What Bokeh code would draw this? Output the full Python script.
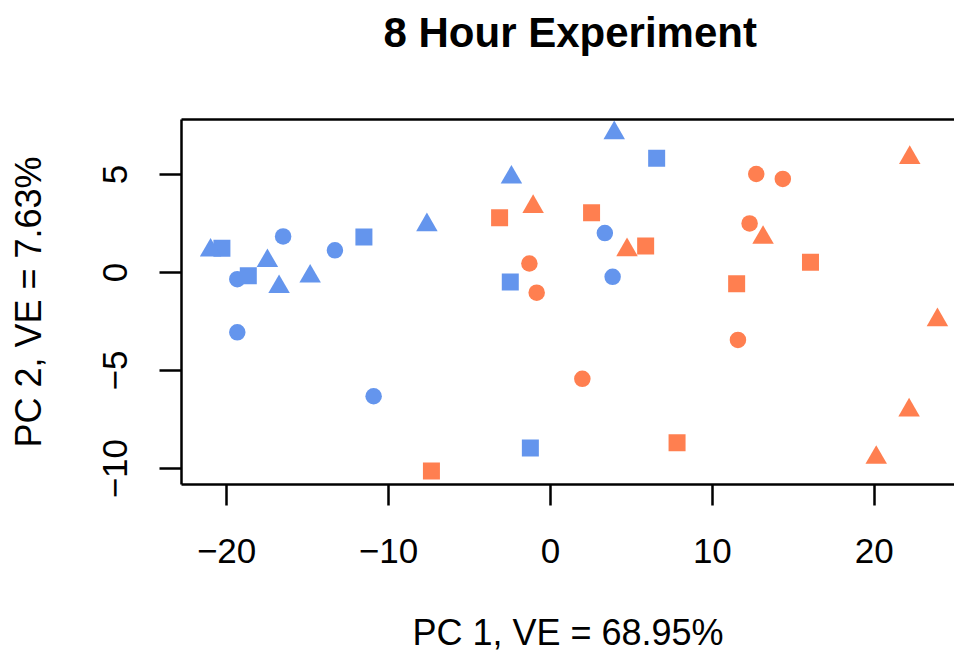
from bokeh.plotting import figure
from bokeh.models import Range1d, LinearAxis, FixedTicker, CustomJSTickFormatter
from bokeh.embed import file_html
from bokeh.resources import INLINE

# ---- data ----
blue_circle_x = [-16.51, -13.31, -19.34, 3.36, 3.84, -19.34, -10.92]
blue_circle_y = [1.84, 1.13, -0.34, 2.01, -0.22, -3.05, -6.31]
blue_square_x = [-20.29, -11.52, -18.66, -2.48, 6.56, -1.24]
blue_square_y = [1.23, 1.81, -0.17, -0.48, 5.82, -8.95]
blue_triangle_x = [-20.99, -7.63, -17.48, -16.76, -14.84, -2.41, 3.94]
blue_triangle_y = [1.13, 2.42, 0.59, -0.73, -0.20, 4.85, 7.11]
orange_circle_x = [-1.30, -0.85, 12.71, 14.35, 12.30, 1.97, 11.58]
orange_circle_y = [0.46, -1.03, 5.02, 4.77, 2.50, -5.42, -3.44]
orange_square_x = [-3.14, 2.54, 5.88, 16.06, 11.50, -7.35, 7.82]
orange_square_y = [2.79, 3.05, 1.35, 0.52, -0.58, -10.12, -8.68]
orange_triangle_x = [-1.07, 22.19, 4.73, 13.13, 23.90, 22.15, 20.12]
orange_triangle_y = [3.35, 5.85, 1.15, 1.78, -2.42, -7.02, -9.44]

x_ticks = [-20, -10, 0, 10, 20]
y_ticks = [-10, -5, 0, 5]

title_text = "8 Hour Experiment"
x_label = "PC 1, VE = 68.95%"
y_label = "PC 2, VE = 7.63%"

BLUE = "#6495ED"
ORANGE = "#FF7F50"
FONT = "Liberation Sans"

# R-style ranges (4% padding); the right side of the plot is cropped by the window
all_x = (blue_circle_x + blue_square_x + blue_triangle_x
         + orange_circle_x + orange_square_x + orange_triangle_x)
all_y = (blue_circle_y + blue_square_y + blue_triangle_y
         + orange_circle_y + orange_square_y + orange_triangle_y)
xspan = max(all_x) - min(all_x)
yspan = max(all_y) - min(all_y)
x_lo = min(all_x) - 0.04 * xspan
x_hi_full = max(all_x) + 0.04 * xspan
y_lo = min(all_y) - 0.04 * yspan
y_hi = max(all_y) + 0.04 * yspan

W, H = 954, 657
LEFT, TOP, BOTTOM = 181, 119, 173
full_frame_w = 785.0
vis_frame_w = W - LEFT
x_hi = x_lo + (x_hi_full - x_lo) * vis_frame_w / full_frame_w

p = figure(width=W, height=H, output_backend="svg", toolbar_location=None,
           x_range=Range1d(x_lo, x_hi), y_range=Range1d(y_lo, y_hi),
           min_border_left=LEFT, min_border_right=0,
           min_border_top=TOP, min_border_bottom=BOTTOM,
           title=title_text)

p.background_fill_color = "white"
p.border_fill_color = "white"
p.outline_line_color = None
p.grid.visible = False

p.title.text_font = FONT
p.title.text_font_size = "42px"
p.title.text_font_style = "bold"
p.title.text_color = "black"
p.title.align = "left"
p.title.offset = 202

fmt = CustomJSTickFormatter(code="return tick < 0 ? '\u2212' + Math.abs(tick) : String(tick);")

for ax, ticks in ((p.xaxis[0], x_ticks), (p.yaxis[0], y_ticks)):
    ax.ticker = FixedTicker(ticks=ticks)
    ax.formatter = fmt
    ax.minor_tick_line_color = None
    ax.major_tick_in = 0
    ax.axis_line_width = 2.5
    ax.axis_line_color = "black"
    ax.major_tick_line_width = 2.5
    ax.major_tick_line_color = "black"
    ax.major_label_text_font = FONT
    ax.major_label_text_font_size = "35px"
    ax.major_label_text_color = "black"
    ax.axis_label_text_font = FONT
    ax.axis_label_text_font_size = "36px"
    ax.axis_label_text_font_style = "normal"
    ax.axis_label_text_color = "black"

p.xaxis[0].axis_label = x_label
p.xaxis[0].major_tick_out = 21
p.xaxis[0].major_label_standoff = 33
p.xaxis[0].axis_label_standoff = 46

p.yaxis[0].axis_label = y_label
p.yaxis[0].major_tick_out = 22
p.yaxis[0].major_label_orientation = "vertical"
p.yaxis[0].major_label_standoff = 32
p.yaxis[0].axis_label_standoff = 52

# top edge of the box; one near-transparent tick reserves the space that lifts the title
top_axis = LinearAxis(ticker=FixedTicker(ticks=[0]), major_tick_out=59, major_tick_in=0,
                      major_tick_line_width=1, major_tick_line_color="white",
                      major_tick_line_alpha=0.01,
                      minor_tick_out=0, minor_tick_in=0, minor_tick_line_color=None,
                      formatter=CustomJSTickFormatter(code="return '';"),
                      major_label_standoff=0,
                      axis_line_width=2.5, axis_line_color="black")
p.add_layout(top_axis, "above")

groups = [
    (blue_circle_x, blue_circle_y, "circle", 16.5, BLUE),
    (blue_square_x, blue_square_y, "square", 17, BLUE),
    (blue_triangle_x, blue_triangle_y, "triangle", 21.5, BLUE),
    (orange_circle_x, orange_circle_y, "circle", 16.5, ORANGE),
    (orange_square_x, orange_square_y, "square", 17, ORANGE),
    (orange_triangle_x, orange_triangle_y, "triangle", 21.5, ORANGE),
]
for gx, gy, mk, sz, col in groups:
    p.scatter(x=gx, y=gy, marker=mk, size=sz, fill_color=col, line_color=None)

open("out.html", "w").write(file_html(p, INLINE))
